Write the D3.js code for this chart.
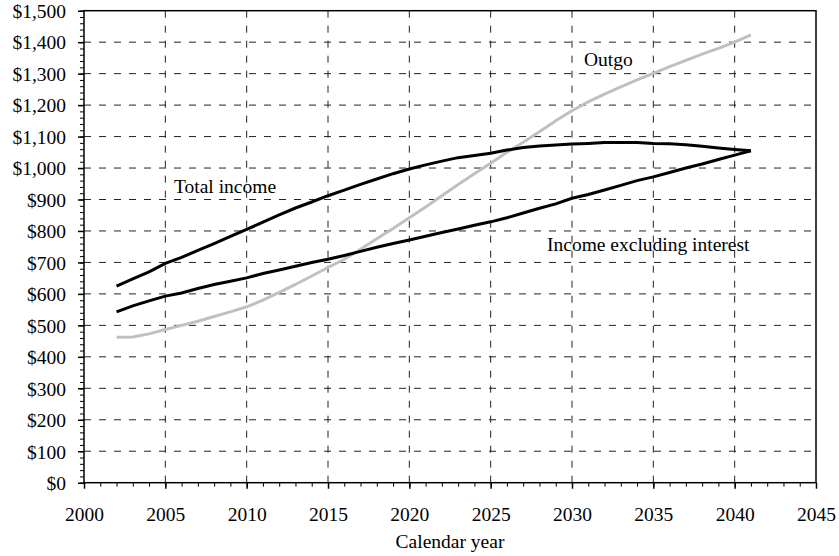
<!DOCTYPE html>
<html>
<head>
<meta charset="utf-8">
<script src="https://d3js.org/d3.v7.min.js"></script>
<style>
  body { margin: 0; background: #fff; }
  svg text { font-family: "Liberation Serif", "Times New Roman", serif; fill: #000; }
</style>
</head>
<body>
<script>
// values in billions
var years = d3.range(2002, 2042);
var totalIncome = [625, 648, 670, 697, 716, 738, 760, 783, 805, 828,
                   851, 873, 892, 912, 930, 948, 965, 982, 997, 1010,
                   1022, 1033, 1040, 1047, 1057, 1065, 1070, 1073, 1076, 1078,
                   1081, 1081, 1081, 1078, 1077, 1074, 1069, 1064, 1059, 1055];
var incomeExInterest = [543, 562, 578, 593, 603, 617, 630, 640, 651, 665,
                        676, 688, 700, 710, 722, 735, 748, 760, 771, 783,
                        795, 806, 818, 829, 842, 857, 872, 886, 904, 916,
                        930, 945, 960, 972, 986, 1000, 1013, 1027, 1041, 1055];
var outgo = [462, 463, 473, 487, 500, 513, 528, 543, 559, 580,
             605, 630, 657, 684, 710, 742, 775, 808, 842, 876,
             912, 948, 982, 1015, 1050, 1082, 1115, 1150, 1182, 1210,
             1235, 1258, 1280, 1301, 1322, 1342, 1362, 1380, 1400, 1423];
var xTicks = d3.range(2000, 2046, 5);
var yTicks = d3.range(0, 1501, 100);

var width = 839, height = 556;
var margin = {top: 10.7, right: 23, bottom: 73.3, left: 84};
var fontSize = 19.5;

var svg = d3.select("body").append("svg")
  .attr("width", width)
  .attr("height", height);

var x = d3.scaleLinear().domain([2000, 2045]).range([margin.left, width - margin.right]);
var y = d3.scaleLinear().domain([0, 1500]).range([height - margin.bottom, margin.top]);

// grid
svg.append("g")
  .selectAll("line")
  .data(yTicks.filter(function(d) { return d > 0 && d < 1500; }))
  .enter().append("line")
  .attr("x1", x(2000)).attr("x2", x(2045))
  .attr("y1", function(d) { return y(d); }).attr("y2", function(d) { return y(d); })
  .attr("stroke", "#222").attr("stroke-width", 1).attr("stroke-dasharray", "7,8");

svg.append("g")
  .selectAll("line")
  .data(xTicks.filter(function(d) { return d > 2000 && d < 2045; }))
  .enter().append("line")
  .attr("x1", function(d) { return x(d); }).attr("x2", function(d) { return x(d); })
  .attr("y1", y(1500)).attr("y2", y(0))
  .attr("stroke", "#222").attr("stroke-width", 1).attr("stroke-dasharray", "7,8");

// frame
svg.append("rect")
  .attr("x", x(2000)).attr("y", y(1500))
  .attr("width", x(2045) - x(2000)).attr("height", y(0) - y(1500))
  .attr("fill", "none").attr("stroke", "#000").attr("stroke-width", 1.5);

// y axis
var yAxis = svg.append("g")
  .attr("transform", "translate(" + x(2000) + ",0)")
  .call(d3.axisLeft(y).tickValues(yTicks).tickSize(6).tickPadding(12)
    .tickFormat(function(d) { return "$" + d3.format(",")(d); }));
yAxis.select(".domain").remove();
yAxis.selectAll("text").style("font-size", fontSize + "px").attr("dy", "0.35em");
yAxis.selectAll("line").attr("stroke-width", 1.5);

svg.append("g")
  .attr("transform", "translate(" + x(2000) + ",0)")
  .call(d3.axisLeft(y).tickValues(d3.range(0, 1501, 20)).tickSize(4).tickFormat(""))
  .call(function(g) { g.select(".domain").remove(); });

// x axis
var xAxis = svg.append("g")
  .attr("transform", "translate(0," + y(0) + ")")
  .call(d3.axisBottom(x).tickValues(xTicks).tickSize(6).tickPadding(18).tickFormat(d3.format("d")));
xAxis.select(".domain").remove();
xAxis.selectAll("text").style("font-size", fontSize + "px");
xAxis.selectAll("line").attr("stroke-width", 1.5);

svg.append("g")
  .attr("transform", "translate(0," + y(0) + ")")
  .call(d3.axisBottom(x).tickValues(d3.range(2000, 2046, 1)).tickSize(4).tickFormat(""))
  .call(function(g) { g.select(".domain").remove(); });

svg.append("text")
  .attr("x", (x(2000) + x(2045)) / 2)
  .attr("y", 548)
  .attr("text-anchor", "middle")
  .style("font-size", fontSize + "px")
  .text("Calendar year");

// series
var line = d3.line()
  .x(function(d, i) { return x(years[i]); })
  .y(function(d) { return y(d); });

svg.append("path").datum(outgo)
  .attr("d", line).attr("fill", "none")
  .attr("stroke", "#c0c0c0").attr("stroke-width", 3);
svg.append("path").datum(incomeExInterest)
  .attr("d", line).attr("fill", "none")
  .attr("stroke", "#000").attr("stroke-width", 3);
svg.append("path").datum(totalIncome)
  .attr("d", line).attr("fill", "none")
  .attr("stroke", "#000").attr("stroke-width", 3);

// labels
var labels = [
  {t: "Total income", x: 174, y: 193},
  {t: "Outgo", x: 584, y: 66},
  {t: "Income excluding interest", x: 547, y: 251}
];
svg.selectAll(".lbl").data(labels).enter().append("text")
  .attr("class", "lbl")
  .attr("x", function(d) { return d.x; })
  .attr("y", function(d) { return d.y; })
  .style("font-size", fontSize + "px")
  .text(function(d) { return d.t; });
</script>
</body>
</html>
